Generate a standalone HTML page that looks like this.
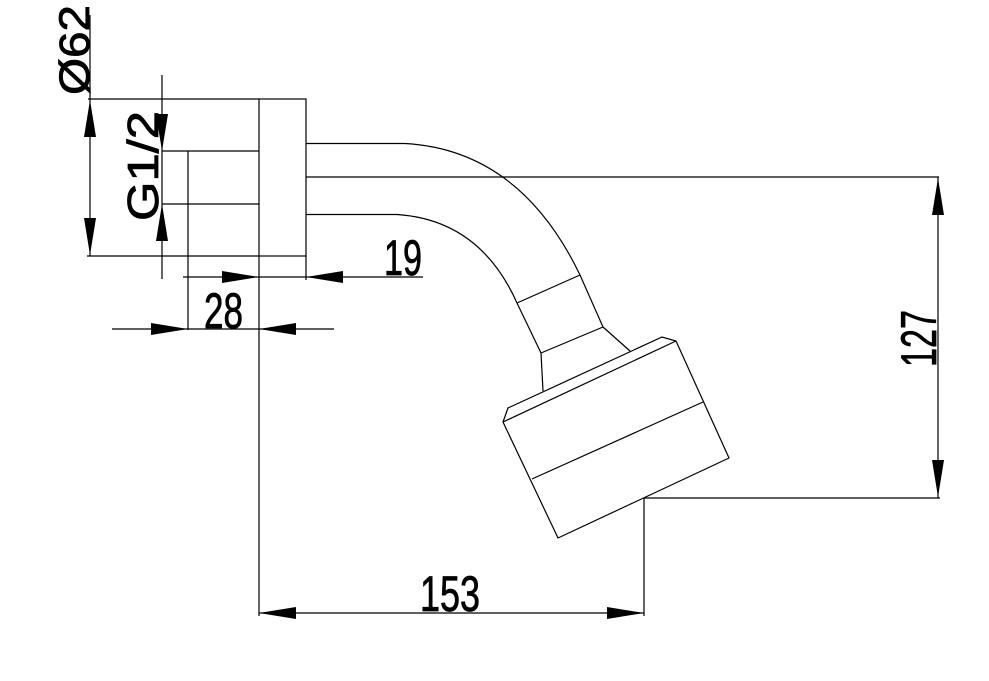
<!DOCTYPE html>
<html><head><style>body{margin:0;background:#fff}svg{display:block}text{font-family:"Liberation Sans",sans-serif;fill:#000;stroke:#000;stroke-width:0.8}</style></head>
<body>
<svg width="989" height="681" viewBox="0 0 989 681" xmlns="http://www.w3.org/2000/svg">
<g stroke="#000" stroke-width="1.2" fill="none">
<rect x="259" y="99" width="47" height="157"/>
<line x1="188" y1="151" x2="259" y2="151"/><line x1="188" y1="204" x2="259" y2="204"/>
<path d="M306 143.5 L405 143.5 Q520 150 580 275"/>
<path d="M306 214.5 L397 214.5 Q480 220 517 303"/>
<line x1="306" y1="177" x2="939" y2="177"/>
<line x1="517" y1="303" x2="580" y2="275"/>
<line x1="517" y1="303" x2="541" y2="353"/>
<line x1="580" y1="275" x2="603" y2="327"/>
<line x1="541" y1="353" x2="603" y2="327"/>
<line x1="541" y1="353" x2="543" y2="391"/>
<line x1="603" y1="327" x2="630" y2="351"/>
<path d="M503 422 L508 408 L662 337 L676 341 L729 458 L558 538 Z"/>
<line x1="503" y1="422" x2="676" y2="341"/>
<line x1="532" y1="479" x2="703" y2="402"/>
<line x1="88" y1="99" x2="259" y2="99"/>
<line x1="87" y1="256" x2="259" y2="256"/>
<line x1="90" y1="15" x2="90" y2="256"/>
<line x1="162" y1="75" x2="162" y2="279"/>
<line x1="162" y1="151" x2="188" y2="151"/>
<line x1="162" y1="204" x2="188" y2="204"/>
<line x1="188" y1="151" x2="188" y2="330"/>
<line x1="259" y1="256" x2="259" y2="616"/>
<line x1="306" y1="256" x2="306" y2="280"/>
<line x1="183" y1="277" x2="423" y2="277"/>
<line x1="112" y1="329" x2="334" y2="329"/>
<line x1="644" y1="498" x2="940" y2="498"/>
<line x1="644" y1="498" x2="644" y2="616"/>
<line x1="938" y1="177" x2="938" y2="498"/>
<line x1="259" y1="613" x2="644" y2="613"/>
</g>
<g fill="#000">
<polygon points="90,100 84,137 96,137"/><polygon points="90,255 84,218 96,218"/>
<polygon points="162,151 156,114 168,114"/><polygon points="162,204 156,241 168,241"/>
<polygon points="259,277 222,271 222,283"/><polygon points="306,277 343,271 343,283"/>
<polygon points="188,329 151,323 151,335"/><polygon points="259,329 296,323 296,335"/>
<polygon points="938,178 932,215 944,215"/><polygon points="938,497 932,460 944,460"/>
<polygon points="259,613 296,607 296,619"/><polygon points="644,613 607,607 607,619"/>
</g>
<text transform="translate(89,95) rotate(-90)" font-size="43" stroke-width="0.3" textLength="90" lengthAdjust="spacingAndGlyphs">Ø62</text>
<text transform="translate(158,221) rotate(-90)" font-size="44" stroke-width="0.3" textLength="110" lengthAdjust="spacingAndGlyphs">G1/2</text>
<text x="384" y="275" font-size="50" textLength="38" lengthAdjust="spacingAndGlyphs">19</text>
<text x="204" y="328" font-size="50" textLength="39" lengthAdjust="spacingAndGlyphs">28</text>
<text x="420" y="611" font-size="50" textLength="60" lengthAdjust="spacingAndGlyphs">153</text>
<text transform="translate(936,367) rotate(-90)" font-size="50" textLength="57" lengthAdjust="spacingAndGlyphs">127</text>
</svg>
</body></html>
